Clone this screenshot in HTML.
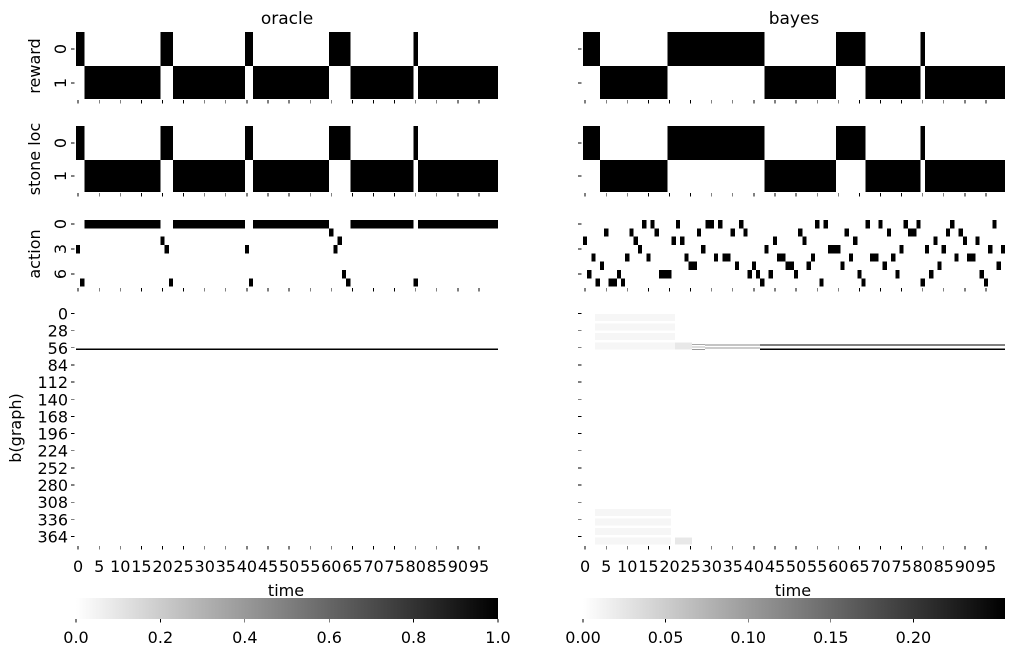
<!DOCTYPE html>
<html><head><meta charset="utf-8"><style>
html,body{margin:0;padding:0;background:#fff;}
svg{display:block;font-family:"DejaVu Sans","Liberation Sans",sans-serif;}
</style></head><body>
<svg id="s" width="1015" height="657" xmlns="http://www.w3.org/2000/svg">
<defs>
<linearGradient id="g" x1="0" x2="1" y1="0" y2="0"><stop offset="0" stop-color="#fff"/><stop offset="1" stop-color="#000"/></linearGradient>
</defs>
<g id="c" shape-rendering="crispEdges"></g>
<text x="287" y="24" font-size="17" text-anchor="middle">oracle</text>
<text x="794" y="24" font-size="17" text-anchor="middle">bayes</text>
<text x="286" y="596" font-size="16" text-anchor="middle">time</text>
<text x="793" y="596" font-size="16" text-anchor="middle">time</text>
<text transform="translate(40,66) rotate(-90)" font-size="16" text-anchor="middle">reward</text>
<text transform="translate(40,159) rotate(-90)" font-size="16" text-anchor="middle">stone loc</text>
<text transform="translate(40,254) rotate(-90)" font-size="16" text-anchor="middle">action</text>
<text transform="translate(21,428) rotate(-90)" font-size="16" text-anchor="middle">b(graph)</text>
<rect x="76" y="598" width="422" height="21" fill="url(#g)"/>
<rect x="583" y="598" width="422" height="21" fill="url(#g)"/>
</svg>
<script>
var s=document.getElementById('c'),NS='http://www.w3.org/2000/svg';
function R(x,y,w,h,f){var r=document.createElementNS(NS,'rect');r.setAttribute('x',x);r.setAttribute('y',y);r.setAttribute('width',w);r.setAttribute('height',h);r.setAttribute('fill',f||'#000');s.appendChild(r);}
function T(x,y,t,a,sz,rot){var e=document.createElementNS(NS,'text');e.setAttribute('font-size',sz||16);e.setAttribute('text-anchor',a||'middle');if(rot){e.setAttribute('transform','translate('+x+','+y+') rotate(-90)');}else{e.setAttribute('x',x);e.setAttribute('y',y);}e.textContent=t;document.getElementById('s').appendChild(e);}
var W=4.22;
function span(x0,a,b,y,h){R(x0+W*a,y,W*(b-a+1),h);}
function binary(x0,set,y0,y1,y2){var runs=[[],[]];var cur=-1,st=0;for(var t=0;t<=100;t++){var v=t<100?(set.indexOf(t)>=0?0:1):-2;if(v!==cur){if(cur>=0){if(cur===0)span(x0,st,t-1,y0,y1-y0);else span(x0,st,t-1,y1,y2-y1);}cur=v;st=t;}}}
function rng(a,b){var r=[];for(var i=a;i<=b;i++)r.push(i);return r;}
var oR=[].concat(rng(0,1),rng(20,22),rng(40,41),rng(60,64),[80]);
var bR=[].concat(rng(0,3),rng(20,42),rng(60,66),[80]);
binary(76,oR,32,66,99);binary(76,oR,126,160,192);
binary(583,bR,32,66,99);binary(583,bR,126,160,192);
var rh=8.33;
var oa=[];for(var t=0;t<100;t++)oa[t]=0;
var ex={20:2,0:3,21:3,40:3,61:3,60:1,62:2,63:6,1:7,22:7,41:7,64:7,80:7};for(var k in ex)oa[k]=ex[k];
var cur=-1,st=0;for(var t=0;t<=100;t++){var v=t<100?oa[t]:-2;if(v!==cur){if(cur>=0)span(76,st,t-1,220+rh*cur,rh);cur=v;st=t;}}
var ba={0:[14,16,22,29,30,32,37,55,57,67,70,76,79,87,97],1:[5,11,17,27,35,38,51,62,72,77,78,86,89],2:[0,12,21,23,45,52,64,83,90,93],3:[13,28,43,58,59,60,75,81,85,96,99],4:[2,10,15,24,31,33,34,46,47,54,63,68,69,73,88,91,92],5:[4,25,26,36,40,48,49,53,61,71,84,98],6:[1,8,18,19,20,39,41,44,50,65,74,82,94],7:[3,6,7,9,42,56,66,80,95]};
for(var r in ba)ba[r].forEach(function(t){span(583,t,t,220+rh*r,rh);});
R(76,348.7,422,1.2,'#000');
[314,323.5,333,342.5].forEach(function(y){R(595,y,80,7,'#f6f6f6');});
R(675,342.5,17,7,'#e8e8e8');
R(692,344,13,1.2,'#aaa');R(692,346.5,13,1,'#bbb');R(692,349,13,1,'#999');
R(705,344.5,55,1,'#888');R(705,347.5,55,1,'#999');
R(760,344.5,245,1.2,'#000');R(760,348.7,245,1.2,'#000');
[509,518.5,528,537.5].forEach(function(y){R(595,y,76,7,'#f6f6f6');});
R(675,537.5,17,7,'#e8e8e8');
[[76,true],[583,false]].forEach(function(p){var x0=p[0],lab=p[1];
 [[99,0],[192,0],[287,0],[545,1]].forEach(function(q){for(var t=0;t<100;t+=5){var x=x0+W*(t+0.5);R(x-0.4,q[0]+1,0.8,3.5,'#000');if(q[1])T(x,572,''+t,'middle',16);}});
 [[49,'0'],[83,'1'],[143,'0'],[176,'1']].forEach(function(q){R(x0-5,q[0]-0.4,3.5,0.8,'#000');if(lab)T(x0-10,q[0],q[1],'middle',16,true);});
 [[224,'0'],[249,'3'],[274,'6']].forEach(function(q){R(x0-5,q[0]-0.4,3.5,0.8,'#000');if(lab)T(x0-10,q[0],q[1],'middle',16,true);});
 for(var i=0;i<14;i++){var y=313.5+17.15*i;R(x0-5,y-0.4,3.5,0.8,'#000');if(lab)T(x0-8,y+6,''+(28*i),'end',16);}
});
for(var i=0;i<=5;i++){var x=76+84.4*i;R(x-0.4,619,0.8,3.5,'#000');T(x,643,(i*0.2).toFixed(1),'middle',16);}
for(var i=0;i<=4;i++){var x=583+82.6*i;R(x-0.4,619,0.8,3.5,'#000');T(x,643,(i*0.05).toFixed(2),'middle',16);}
</script>
</body></html>
